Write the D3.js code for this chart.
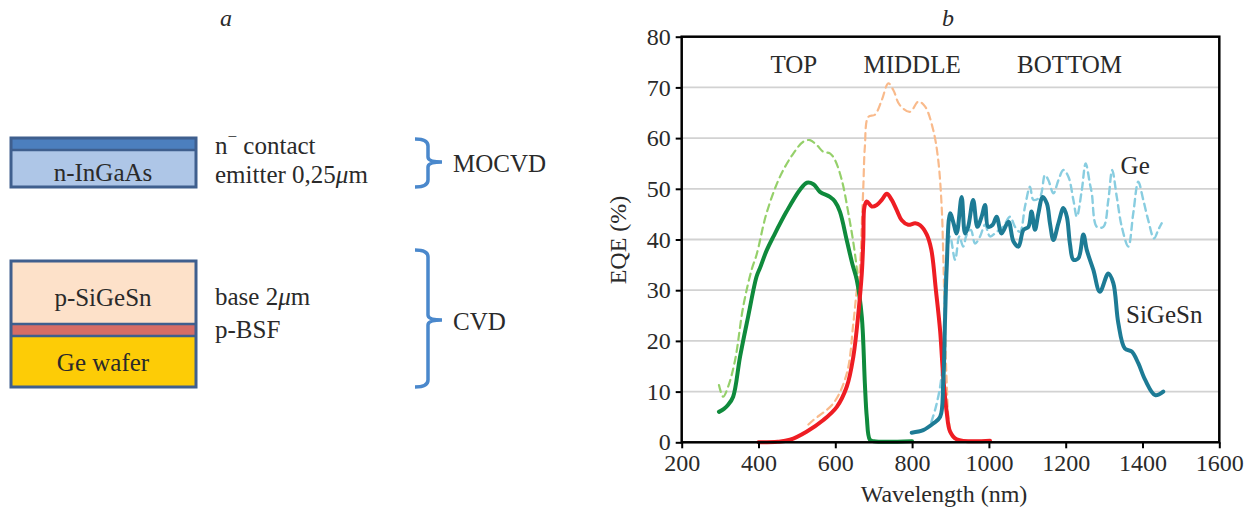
<!DOCTYPE html>
<html><head><meta charset="utf-8">
<script src="https://cdn.jsdelivr.net/npm/d3@7"></script>
<style>
body{margin:0;background:#fff}
text{font-family:"Liberation Serif","Times New Roman",serif;fill:#2a2a2a}
</style>
</head><body>
<svg id="c" width="1253" height="509"></svg>
<script>
// ---------- data ----------
const xTicks = [200, 400, 600, 800, 1000, 1200, 1400, 1600];
const yTicks = [0, 10, 20, 30, 40, 50, 60, 70, 80];
const junctionLabels = ["TOP", "MIDDLE", "BOTTOM"];
const junctionCenters = [492, 800, 1210];

// TOP junction (solid = measured, dashed = reference)
const topSolid = [[297,6.0],[310,6.6],[321,7.4],[334,9.0],[352,16.9],[373,24.8],[395,32.7],[404,34.4],[421,37.8],[439,40.6],[473,45.5],[508,49.8],[526,51.2],[543,50.9],[560,49.4],[586,48.4],[599,47.5],[612,45.5],[630,39.8],[645,35.0],[656,32.0],[669,24.8],[677,11.6],[682,5.0],[690,0.5],[700,0.2],[800,0.2]];
const topDashed = [[297,11.3],[308,9.0],[321,11.0],[339,16.2],[360,26.7],[382,34.0],[395,37.0],[421,45.2],[456,52.4],[491,57.0],[517,59.3],[534,59.6],[552,58.6],[569,57.3],[586,57.0],[599,55.7],[617,51.7],[634,45.2],[651,37.3],[664,28.1],[673,18.2],[680,8.0],[688,1.0],[695,0.2]];
// MIDDLE junction
const midSolid = [[400,0],[450,0.1],[482,0.5],[525,2.1],[569,4.4],[604,7.0],[630,11.0],[647,16.9],[660,25.4],[669,33.3],[673,40.0],[676,46.5],[682,47.5],[695,46.5],[708,46.8],[721,47.8],[734,49.0],[747,47.8],[760,45.8],[773,43.8],[790,42.9],[808,43.2],[821,42.8],[838,41.0],[850,38.0],[862,30.0],[873,22.0],[881,13.0],[890,6.0],[899,2.1],[916,0.6],[1003,0.3]];
const midDashed = [[530,3.5],[543,4.4],[595,7.7],[630,13.6],[647,23.5],[656,30.0],[664,34.6],[670,45.0],[673,50.4],[677,58.3],[686,64.2],[703,64.6],[721,67.5],[738,70.8],[751,69.5],[768,66.5],[795,65.2],[816,67.2],[834,66.2],[855,61.6],[868,55.7],[877,46.5],[881,37.3],[885,25.0],[890,12.0],[896,4.0],[905,1.0],[920,0.3]];
// BOTTOM junction: SiGeSn (solid) and Ge (dashed)
const botSiGeSn = [[799,1.9],[829,2.4],[855,3.7],[873,5.0],[881,11.6],[886,24.8],[890,34.3],[899,45.2],[908,43.2],[916,41.2],[929,48.4],[938,41.2],[946,42.5],[959,47.8],[970,42.5],[981,44.5],[990,46.8],[998,42.5],[1010,42.9],[1020,44.5],[1033,41.2],[1051,43.5],[1064,39.6],[1077,38.6],[1090,41.9],[1103,42.5],[1111,45.5],[1120,41.9],[1129,45.2],[1140,48.4],[1151,47.1],[1159,43.2],[1168,39.9],[1181,43.2],[1194,46.2],[1203,44.5],[1211,39.2],[1220,36.0],[1233,36.3],[1246,41.0],[1255,37.9],[1272,34.0],[1289,29.7],[1311,33.3],[1324,31.4],[1337,23.5],[1354,18.5],[1372,17.9],[1389,15.6],[1407,12.3],[1433,9.3],[1454,10.0]];
const botGe = [[850,4.0],[862,7.0],[875,12.0],[882,20.0],[888,35.0],[899,40.6],[912,36.0],[923,40.6],[933,38.6],[942,40.9],[953,41.9],[964,39.2],[977,40.6],[990,42.9],[1003,40.6],[1020,41.5],[1037,42.5],[1055,44.5],[1068,42.5],[1081,41.5],[1094,46.5],[1107,50.4],[1116,47.8],[1133,48.4],[1146,52.7],[1155,51.7],[1168,49.1],[1181,51.7],[1194,53.7],[1207,52.4],[1220,47.8],[1229,44.5],[1242,49.8],[1252,55.0],[1263,51.0],[1268,49.1],[1281,42.5],[1298,42.5],[1311,47.8],[1321,53.7],[1333,48.4],[1346,42.5],[1363,38.6],[1376,45.2],[1389,51.4],[1402,47.8],[1415,43.8],[1430,40.2],[1441,41.9],[1450,43.2]];

// Left panel layer labels
const topStackLabels = ["n-InGaAs"];
const bottomStackLabels = ["p-SiGeSn", "Ge wafer"];
const layerNotes = ["n\u207B contact", "emitter 0,25", "base 2", "p-BSF"];
const methods = ["MOCVD", "CVD"];

// ---------- drawing ----------
const svg = d3.select("#c");
svg.append("rect").attr("width",1253).attr("height",509).attr("fill","#fff");

// ===== panel a =====
const A = svg.append("g");
A.append("text").attr("x",226).attr("y",18).attr("text-anchor","middle").attr("dominant-baseline","central")
  .attr("font-size",24).attr("font-style","italic").text("a");

const boxStroke = "#3f5f8e";
// top stack
A.append("rect").attr("x",11).attr("y",138).attr("width",185).attr("height",12).attr("fill","#4c7fbe");
A.append("rect").attr("x",11).attr("y",150).attr("width",185).attr("height",37).attr("fill","#aec6e7");
A.append("line").attr("x1",11).attr("x2",196).attr("y1",150).attr("y2",150).attr("stroke",boxStroke).attr("stroke-width",2.5);
A.append("rect").attr("x",11).attr("y",138).attr("width",185).attr("height",49).attr("fill","none").attr("stroke",boxStroke).attr("stroke-width",3);
A.append("text").attr("x",103).attr("y",172).attr("text-anchor","middle").attr("dominant-baseline","central").attr("font-size",25).text(topStackLabels[0]);

// bottom stack
A.append("rect").attr("x",11).attr("y",261).attr("width",185).attr("height",63).attr("fill","#fde1c9");
A.append("rect").attr("x",11).attr("y",324).attr("width",185).attr("height",12).attr("fill","#d66d66");
A.append("rect").attr("x",11).attr("y",336).attr("width",185).attr("height",51).attr("fill","#fdcc06");
[324,336].forEach(v=>A.append("line").attr("x1",11).attr("x2",196).attr("y1",v).attr("y2",v).attr("stroke",boxStroke).attr("stroke-width",2.5));
A.append("rect").attr("x",11).attr("y",261).attr("width",185).attr("height",126).attr("fill","none").attr("stroke",boxStroke).attr("stroke-width",3);
A.append("text").attr("x",103).attr("y",297).attr("text-anchor","middle").attr("dominant-baseline","central").attr("font-size",25).text(bottomStackLabels[0]);
A.append("text").attr("x",103).attr("y",362).attr("text-anchor","middle").attr("dominant-baseline","central").attr("font-size",25).text(bottomStackLabels[1]);

// notes
const n1 = A.append("text").attr("x",215).attr("y",145).attr("dominant-baseline","central").attr("font-size",25);
n1.append("tspan").text("n");
n1.append("tspan").attr("dy",-9).attr("font-size",17).text("\u2212");
n1.append("tspan").attr("dy",9).text(" contact");
const n2 = A.append("text").attr("x",215).attr("y",174).attr("dominant-baseline","central").attr("font-size",25);
n2.append("tspan").text(layerNotes[1]);
n2.append("tspan").attr("font-style","italic").text("\u03BC");
n2.append("tspan").text("m");
const n3 = A.append("text").attr("x",215).attr("y",296).attr("dominant-baseline","central").attr("font-size",25);
n3.append("tspan").text(layerNotes[2]);
n3.append("tspan").attr("font-style","italic").text("\u03BC");
n3.append("tspan").text("m");
A.append("text").attr("x",215).attr("y",329).attr("dominant-baseline","central").attr("font-size",25).text(layerNotes[3]);

// braces
const braceColor = "#4a88cc";
function brace(y0, ym, y1){
  const xl=415, xv=428, xt=442;
  return `M${xl},${y0} Q${xv},${y0} ${xv},${y0+7} L${xv},${ym-5} Q${xv},${ym} ${xt},${ym} Q${xv},${ym} ${xv},${ym+5} L${xv},${y1-7} Q${xv},${y1} ${xl},${y1}`;
}
A.append("path").attr("d",brace(139,162,187)).attr("fill","none").attr("stroke",braceColor).attr("stroke-width",3.5);
A.append("path").attr("d",brace(250,320,387)).attr("fill","none").attr("stroke",braceColor).attr("stroke-width",3.5);
A.append("text").attr("x",453).attr("y",163).attr("dominant-baseline","central").attr("font-size",25).text(methods[0]);
A.append("text").attr("x",453).attr("y",321).attr("dominant-baseline","central").attr("font-size",25).text(methods[1]);

// ===== panel b =====
const x = d3.scaleLinear().domain([200,1600]).range([681.7,1219.3]);
const y = d3.scaleLinear().domain([0,80]).range([442.3,36.7]);
const B = svg.append("g");

B.append("text").attr("x",948).attr("y",18).attr("text-anchor","middle").attr("dominant-baseline","central")
  .attr("font-size",24).attr("font-style","italic").text("b");

// grid
B.append("g").selectAll("line").data(yTicks.filter(t=>t>0 && t<80)).join("line")
  .attr("x1",x(200)).attr("x2",x(1600)).attr("y1",d=>y(d)).attr("y2",d=>y(d))
  .attr("stroke","#d2d2d2").attr("stroke-width",1.8);

// curves
const line = d3.line().x(d=>x(d[0])).y(d=>y(d[1])).curve(d3.curveCatmullRom.alpha(0.5));
const series = [
  {d:topDashed, c:"#95d06a", w:2.2, dash:"7,5"},
  {d:midDashed, c:"#f9ba8b", w:2.2, dash:"7,5"},
  {d:botGe, c:"#88cde0", w:2.4, dash:"7,5"},
  {d:topSolid, c:"#0f8a3c", w:4, dash:null},
  {d:midSolid, c:"#ee1d23", w:4, dash:null},
  {d:botSiGeSn, c:"#1d7b95", w:4, dash:null},
];
series.forEach(s=>{
  B.append("path").attr("d",line(s.d)).attr("fill","none").attr("stroke",s.c)
   .attr("stroke-width",s.w).attr("stroke-linejoin","round").attr("stroke-linecap","round")
   .attr("stroke-dasharray",s.dash);
});

// axes
const xAxis = B.append("g").attr("transform",`translate(0,${y(0)})`)
  .call(d3.axisBottom(x).tickValues(xTicks).tickSize(6).tickPadding(6).tickFormat(d3.format("d")));
const yAxis = B.append("g").attr("transform",`translate(${x(200)},0)`)
  .call(d3.axisLeft(y).tickValues(yTicks).tickSize(6).tickPadding(5).tickFormat(d3.format("d")));
[xAxis,yAxis].forEach(g=>{
  g.select(".domain").remove();
  g.selectAll(".tick line").attr("stroke","#000").attr("stroke-width",2);
  g.selectAll(".tick text").attr("font-size",24).attr("font-family","Liberation Serif, serif").attr("fill","#2a2a2a");
});
// frame
B.append("rect").attr("x",x(200)).attr("y",y(80)).attr("width",x(1600)-x(200)).attr("height",y(0)-y(80))
  .attr("fill","none").attr("stroke","#000").attr("stroke-width",2.5);

// axis titles
B.append("text").attr("x",944).attr("y",494).attr("text-anchor","middle").attr("dominant-baseline","central")
  .attr("font-size",24).text("Wavelength (nm)");
B.append("text").attr("transform","translate(618,240) rotate(-90)").attr("text-anchor","middle").attr("dominant-baseline","central")
  .attr("font-size",24).text("EQE (%)");

// junction labels
junctionLabels.forEach((t,i)=>{
  B.append("text").attr("x",x(junctionCenters[i])).attr("y",y(74.5)).attr("text-anchor","middle")
   .attr("dominant-baseline","central").attr("font-size",25).text(t);
});
B.append("text").attr("x",x(1343)).attr("y",y(54.5)).attr("dominant-baseline","central").attr("font-size",25).text("Ge");
B.append("text").attr("x",x(1357)).attr("y",y(25.2)).attr("dominant-baseline","central").attr("font-size",25).text("SiGeSn");
</script>
</body></html>
